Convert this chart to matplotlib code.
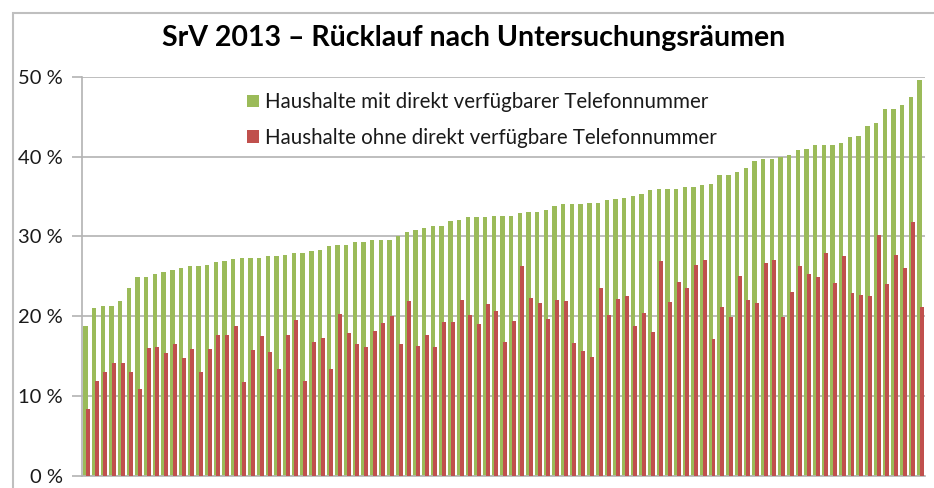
import numpy as np
import matplotlib.pyplot as plt
from matplotlib.patches import Rectangle

plt.rcParams['font.family'] = ['Lato', 'DejaVu Sans']

title = 'SrV 2013 \u2013 Rücklauf nach Untersuchungsräumen'
label_mit = 'Haushalte mit direkt verfügbarer Telefonnummer'
label_ohne = 'Haushalte ohne direkt verfügbare Telefonnummer'

# Rücklauf in % je Untersuchungsraum, sortiert nach "mit Telefonnummer"
mit_tel = [
    18.8, 21.0, 21.25, 21.25, 21.9, 23.6, 24.9, 24.9, 25.25, 25.6,
    25.75, 26.1, 26.25, 26.3, 26.4, 26.8, 26.9, 27.2, 27.25, 27.3,
    27.3, 27.5, 27.5, 27.7, 27.9, 27.9, 28.2, 28.3, 28.8, 28.9,
    28.9, 29.3, 29.3, 29.6, 29.6, 29.6, 30.0, 30.5, 30.75, 31.0,
    31.25, 31.3, 31.9, 32.1, 32.4, 32.4, 32.4, 32.5, 32.5, 32.5,
    32.9, 33.0, 33.1, 33.3, 33.8, 34.0, 34.1, 34.1, 34.2, 34.2,
    34.5, 34.7, 34.8, 35.0, 35.25, 35.8, 35.9, 36.0, 36.0, 36.2,
    36.2, 36.5, 36.6, 37.75, 37.75, 38.1, 38.6, 39.5, 39.75, 39.75,
    39.9, 40.25, 40.85, 41.0, 41.4, 41.5, 41.5, 41.7, 42.4, 42.6,
    43.8, 44.2, 45.9, 46.0, 46.5, 47.45, 49.6,
]
ohne_tel = [
    8.4, 11.9, 13.0, 14.2, 14.2, 13.0, 10.9, 16.0, 16.2, 15.4,
    16.5, 14.75, 15.9, 13.0, 15.9, 17.6, 17.6, 18.75, 11.8, 15.8,
    17.5, 15.5, 13.4, 17.7, 19.5, 11.9, 16.75, 17.3, 13.4, 20.25,
    17.9, 16.5, 16.1, 18.1, 19.1, 20.0, 16.5, 21.9, 16.3, 17.7,
    16.1, 19.3, 19.25, 22.0, 20.2, 19.0, 21.6, 20.6, 16.8, 19.4,
    26.25, 22.3, 21.7, 19.6, 22.0, 21.9, 16.7, 15.6, 14.9, 23.6,
    20.2, 22.2, 22.5, 18.75, 20.4, 18.0, 26.9, 21.8, 24.3, 23.6,
    26.4, 27.0, 17.1, 21.2, 19.9, 25.0, 22.1, 21.7, 26.7, 27.0,
    19.9, 23.0, 26.3, 25.25, 24.95, 27.9, 24.2, 27.6, 22.9, 22.7,
    22.5, 30.2, 24.0, 27.7, 26.1, 31.8, 21.1,
]
y_ticks = [0, 10, 20, 30, 40, 50]

green = '#9BBB59'
red = '#C0504D'
grid_col = '#B3B3B3'

W, H = 934, 488
fig = plt.figure(figsize=(W / 100, H / 100), dpi=100)
ax = fig.add_axes([82.3 / W, 12 / H, 842.7 / W, 399.3 / H])

x = np.arange(len(mit_tel))
b1 = ax.bar(x - 0.135, mit_tel, width=0.5, color=green, zorder=2, label=label_mit)
b2 = ax.bar(x + 0.155, ohne_tel, width=0.46, color=red, zorder=3, label=label_ohne)

ax.set_xlim(-0.5, len(mit_tel) - 0.5)
ax.set_ylim(0, 50)
ax.set_yticks(y_ticks)
ax.set_yticklabels([f'{v} %' for v in y_ticks])
ax.set_xticks([])
ax.yaxis.grid(True, color=grid_col, linewidth=1.2, zorder=0)
ax.set_axisbelow(True)
ax.tick_params(axis='y', length=7, width=1.2, color=grid_col, pad=7,
               labelsize=14.5, labelcolor='#1a1a1a')
for s in ['top', 'right']:
    ax.spines[s].set_visible(False)
for s in ['left', 'bottom']:
    ax.spines[s].set_color(grid_col)
    ax.spines[s].set_linewidth(1.2)

fig.text(474 / W, (H - 46) / H, title, ha='center', va='baseline',
         fontsize=20.5, fontweight='bold', color='black')

ax.legend(handles=[b1, b2], loc='upper left', frameon=False,
          bbox_to_anchor=(239 / W, (H - 84) / H), bbox_transform=fig.transFigure,
          fontsize=14.8, handlelength=0.55, handleheight=0.55, handletextpad=0.3,
          labelspacing=0.75, borderaxespad=0, labelcolor='#1a1a1a')

# grauer Rahmen des Diagrammbereichs
fig.patches.append(Rectangle((13 / W, -0.1), 1.1, (H - 13) / H + 0.1,
                             transform=fig.transFigure, fill=False,
                             edgecolor='#BFBFBF', linewidth=1.5))

fig.savefig('out.png', dpi=100)
